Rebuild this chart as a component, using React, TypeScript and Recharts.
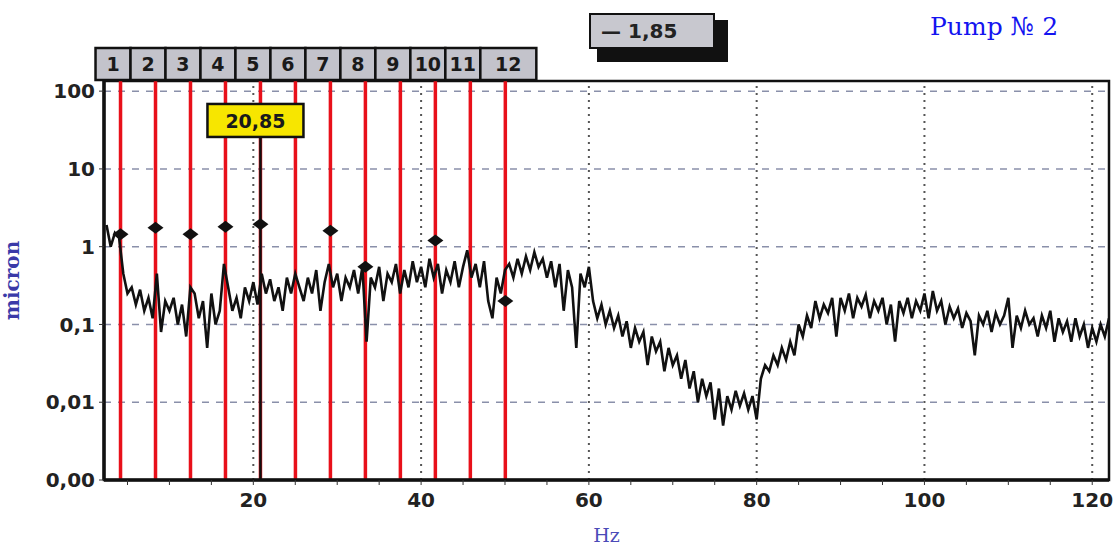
import React from 'react'
import {
  ComposedChart, Line, Scatter, XAxis, YAxis, CartesianGrid, ReferenceLine, ReferenceArea,
} from 'recharts'

// spectrum sampled every 0.5 Hz starting at 2.5 Hz (micron)
const F_START = 2.5
const F_STEP = 0.5
const AMPLITUDE = [
  1.9, 1.0, 1.5, 1.3, 0.45, 0.25, 0.3, 0.18, 0.28, 0.15,
  0.22, 0.12, 0.45, 0.08, 0.2, 0.15, 0.22, 0.1, 0.18, 0.07,
  0.3, 0.25, 0.12, 0.2, 0.05, 0.25, 0.1, 0.15, 0.6, 0.3,
  0.15, 0.22, 0.12, 0.3, 0.2, 0.35, 0.18, 0.45, 0.25, 0.38,
  0.2, 0.3, 0.15, 0.4, 0.25, 0.45, 0.3, 0.2, 0.4, 0.25,
  0.5, 0.15, 0.35, 0.6, 0.3, 0.45, 0.2, 0.4, 0.3, 0.5,
  0.25, 0.55, 0.06, 0.4, 0.3, 0.55, 0.2, 0.45, 0.35, 0.6,
  0.25, 0.5, 0.3, 0.65, 0.35, 0.55, 0.3, 0.7, 0.4, 0.6,
  0.25, 0.5, 0.35, 0.65, 0.3, 0.55, 0.9, 0.4, 0.6, 0.3,
  0.65, 0.2, 0.12, 0.4, 0.25, 0.5, 0.6, 0.4, 0.7, 0.45,
  0.75, 0.5, 0.85, 0.55, 0.7, 0.4, 0.65, 0.3, 0.6, 0.15,
  0.5, 0.3, 0.05, 0.45, 0.3, 0.55, 0.2, 0.12, 0.18, 0.1,
  0.15, 0.09, 0.13, 0.07, 0.11, 0.05, 0.09, 0.06, 0.08, 0.03,
  0.07, 0.045, 0.06, 0.025, 0.05, 0.03, 0.04, 0.02, 0.035, 0.015,
  0.025, 0.01, 0.02, 0.012, 0.018, 0.006, 0.015, 0.005, 0.012, 0.008,
  0.014, 0.009, 0.013, 0.008, 0.012, 0.006, 0.02, 0.03, 0.025, 0.04,
  0.03, 0.05, 0.035, 0.06, 0.04, 0.1, 0.07, 0.13, 0.09, 0.2,
  0.12, 0.18, 0.14, 0.22, 0.07, 0.22, 0.15, 0.25, 0.12, 0.22,
  0.17, 0.24, 0.12, 0.2, 0.15, 0.22, 0.1, 0.18, 0.06, 0.2,
  0.14, 0.22, 0.12, 0.2, 0.15, 0.25, 0.12, 0.27, 0.15, 0.2,
  0.1, 0.17, 0.12, 0.16, 0.09, 0.14, 0.11, 0.04, 0.13, 0.1,
  0.15, 0.08, 0.14, 0.1, 0.13, 0.22, 0.05, 0.13, 0.09, 0.15,
  0.1, 0.12, 0.07, 0.13, 0.09, 0.15, 0.06, 0.12, 0.08, 0.11,
  0.06, 0.12, 0.07, 0.1, 0.05, 0.09, 0.06, 0.1, 0.07, 0.12,
]

// harmonic cursors (1x = 4.17 Hz)
const HARMONICS = [4.17, 8.34, 12.51, 16.68, 20.85, 25.02, 29.19, 33.36, 37.53, 41.7, 45.87, 50.04]
const HARMONIC_LABELS = ['1', '2', '3', '4', '5', '6', '7', '8', '9', '10', '11', '12']
const CURSOR_F = 20.85
const CURSOR_LABEL = '20,85'

// peak markers
const PEAK_F = [4.17, 8.34, 12.51, 16.68, 20.85, 29.19, 33.36, 41.7, 50.04]
const PEAK_A = [1.45, 1.75, 1.45, 1.8, 1.95, 1.6, 0.55, 1.2, 0.2]

const X_TICKS = [5, 10, 15, 20, 25, 30, 35, 40, 45, 50, 55, 60, 65, 70, 75, 80, 85, 90, 95, 100, 105, 110, 115, 120]
const X_GRID = [20, 40, 60, 80, 100, 120]
const Y_TICKS = [0.001, 0.01, 0.1, 1, 10, 100]

const spectrum = AMPLITUDE.map((a, i) => ({ f: F_START + i * F_STEP, a }))
const peaks = PEAK_F.map((f, i) => ({ f, a: PEAK_A[i] }))

const tickFont = { fontFamily: '"DejaVu Sans", Verdana, sans-serif', fontWeight: 700, fontSize: 20, fill: '#222' }

const fmtY = (v: number) => (v === 0.001 ? '0,00' : v < 1 ? String(v).replace('.', ',') : String(v))
const fmtX = (v: number) => (v % 20 === 0 ? String(v) : '')

function Diamond(props: any) {
  const { cx, cy } = props
  return <polygon points={`${cx - 8},${cy} ${cx},${cy - 6} ${cx + 8},${cy} ${cx},${cy + 6}`} fill="#111" />
}

function harmonicTag(label: string, last: boolean) {
  return (props: any) => {
    const { x, y } = props.viewBox
    const w = last ? 56 : 35
    return (
      <g>
        <rect x={x - 25} y={y - 33} width={w} height={32} fill="#c3c3cb" stroke="#111" strokeWidth={2.5} />
        <text x={x - 25 + w / 2} y={y - 10} textAnchor="middle"
          style={{ ...tickFont, fontSize: 19, fill: '#1a1a1a' }}>{label}</text>
      </g>
    )
  }
}

function cursorTag(props: any) {
  const { x, y } = props.viewBox
  return (
    <g>
      <rect x={x - 53} y={y - 34} width={96} height={33} fill="#f7e600" stroke="#111" strokeWidth={2.5} />
      <text x={x - 5} y={y - 10} textAnchor="middle" style={{ ...tickFont, fontSize: 19, fill: '#1a1a1a' }}>{CURSOR_LABEL}</text>
    </g>
  )
}

export default function App() {
  return (
    <div style={{ position: 'absolute', left: 0, top: 0, width: 1115, height: 546, background: '#fff' }}>
      <ComposedChart width={1115} height={546} margin={{ top: 81, right: 6, bottom: 0, left: 0 }}>
        <CartesianGrid vertical={false} stroke="#8a90aa" strokeDasharray="7 7" strokeWidth={1.5} />
        <XAxis
          type="number" dataKey="f" domain={[2.2, 122]} ticks={X_TICKS} tickFormatter={fmtX}
          allowDataOverflow height={66} tickSize={5} tickMargin={8}
          axisLine={{ stroke: '#111', strokeWidth: 3.5 }} tickLine={{ stroke: '#333' }} tick={tickFont}
          label={{ value: 'Hz', position: 'insideBottom', offset: 4, style: { fontFamily: '"DejaVu Serif", serif', fontSize: 19, fill: '#4b4bb8' } }}
        />
        <YAxis
          scale="log" domain={[0.001, 135]} ticks={Y_TICKS} tickFormatter={fmtY}
          allowDataOverflow width={104} tickSize={5} tickMargin={4}
          axisLine={{ stroke: '#111', strokeWidth: 3.5 }} tickLine={{ stroke: '#333' }} tick={tickFont}
          label={{ value: 'micron', angle: -90, position: 'insideLeft', offset: 12, style: { fontFamily: '"DejaVu Serif", serif', fontWeight: 700, fontSize: 20, fill: '#3a3aa8', textAnchor: 'middle' } }}
        />
        {X_GRID.map((x) => (
          <ReferenceLine key={'g' + x} x={x} stroke="#555" strokeDasharray="2 5" strokeWidth={2} />
        ))}
        <ReferenceArea x1={2.2} x2={122} y1={0.001} y2={135} fill="none" stroke="#111" strokeWidth={2.5} />
        {HARMONICS.map((h, i) => (
          <ReferenceLine key={'h' + i} x={h} stroke="#e8101a" strokeWidth={3.5}
            label={harmonicTag(HARMONIC_LABELS[i], i === HARMONICS.length - 1)} />
        ))}
        <ReferenceLine segment={[{ x: CURSOR_F, y: 0.001 }, { x: CURSOR_F, y: 25 }]} stroke="#111" strokeWidth={2.5}
          label={cursorTag} />
        <Line data={spectrum} dataKey="a" type="linear" stroke="#111" strokeWidth={2.6} dot={false} isAnimationActive={false} />
        <Scatter data={peaks} dataKey="a" shape={<Diamond />} isAnimationActive={false} />
      </ComposedChart>

      <div style={{ position: 'absolute', left: 597, top: 20, width: 131, height: 42, background: '#111' }} />
      <div style={{
        position: 'absolute', left: 589, top: 13, width: 126, height: 36, background: '#c8c8cf',
        border: '2px solid #111', boxSizing: 'border-box', display: 'flex', alignItems: 'center', paddingLeft: 10,
        fontFamily: '"DejaVu Sans", Verdana, sans-serif', fontWeight: 700, fontSize: 20, color: '#222',
      }}>— 1,85</div>
      <div style={{
        position: 'absolute', left: 930, top: 12, fontFamily: '"DejaVu Serif", serif', fontSize: 25, color: '#1414f0',
      }}>Pump № 2</div>
    </div>
  )
}
